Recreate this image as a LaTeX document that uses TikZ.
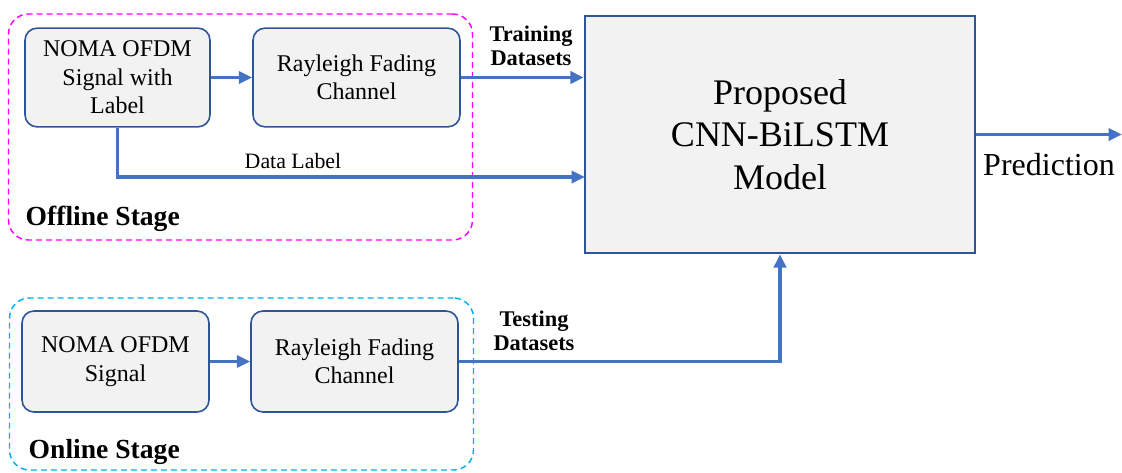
\documentclass[tikz,border=0pt]{standalone}
\usepackage{fontspec}
\setmainfont{LiberationSerif-Regular.ttf}[BoldFont=LiberationSerif-Bold.ttf]
\usetikzlibrary{arrows.meta}
\definecolor{arrowblue}{RGB}{68,114,196}
\definecolor{borderblue}{RGB}{47,85,151}
\definecolor{boxgray}{RGB}{242,242,242}
\definecolor{offmagenta}{RGB}{255,0,255}
\definecolor{oncyan}{RGB}{0,176,240}

\begin{document}
\begin{tikzpicture}[x=0.75pt, y=-0.75pt]
    \tikzstyle{block} = [rectangle, rounded corners=9pt, minimum height=74pt, text centered, align=center, draw=borderblue, line width=1.2pt, fill=boxgray, font=\fontsize{18}{21.4}\selectfont]
    \tikzstyle{model} = [rectangle, minimum width=292.5pt, minimum height=177.75pt, align=center, draw=borderblue, line width=1.8pt, fill=boxgray, font=\fontsize{27}{32}\selectfont]
    \tikzstyle{stage} = [rectangle, rounded corners=15pt, dash pattern=on 4.5pt off 3pt, line width=1.1pt, minimum width=348pt]
    \tikzstyle{flow} = [draw=arrowblue, line width=2.8pt, -{Triangle[length=10pt,width=9pt]}]
    \tikzstyle{flowlabel} = [align=center, font=\bfseries\fontsize{16.8}{18}\selectfont]
    \tikzstyle{stagelabel} = [anchor=base west, font=\bfseries\fontsize{20.7}{24}\selectfont]

    \useasboundingbox (0,0) rectangle (1122,472);

    % Stage frames
    \node [stage, draw=offmagenta, minimum height=169.5pt] (offline) at (240.5,127) {};
    \node [stage, draw=oncyan, minimum height=129pt] (online) at (241.5,384) {};
    \node [stagelabel] (offlinetxt) at (21,225) {Offline Stage};
    \node [stagelabel] (onlinetxt) at (24,458) {Online Stage};

    % Offline blocks
    \node [block, minimum width=138.75pt] (sigl) at (117.5,77.5) {NOMA OFDM\\Signal with\\Label};
    \node [block, minimum width=155.25pt] (chan1) at (356.5,77.5) {Rayleigh Fading\\Channel};

    % Online blocks
    \node [block, minimum width=140.25pt, minimum height=75.75pt] (sig) at (115.5,361.5) {NOMA OFDM\\Signal};
    \node [block, minimum width=155.25pt, minimum height=75.75pt] (chan2) at (354.5,361.5) {Rayleigh Fading\\Channel};

    % Model
    \node [model] (cnn) at (780,134.5) {Proposed\\CNN-BiLSTM\\Model};
    \coordinate (lblin) at (585,177);
    \coordinate (out) at (1122,134.5);

    % Connections
    \draw [flow] (sigl) -- (chan1);
    \draw [flow] (chan1.east) -- (chan1.east -| cnn.west);
    \draw [flow] (sigl.south) |- (lblin);
    \draw [flow] (sig) -- (chan2);
    \draw [flow] (chan2.east) -| (cnn.south);
    \draw [flow] (cnn.east) -- (out);

    % Labels
    \node [flowlabel] (train) at (531,46) {Training\\Datasets};
    \node [flowlabel] (test) at (534,331) {Testing\\Datasets};
    \node [font=\fontsize{16.4}{19}\selectfont] (lbltxt) at (293,161) {Data Label};
    \node [anchor=base, font=\fontsize{24}{28}\selectfont] (pred) at (1049,175) {Prediction};
\end{tikzpicture}
\end{document}
